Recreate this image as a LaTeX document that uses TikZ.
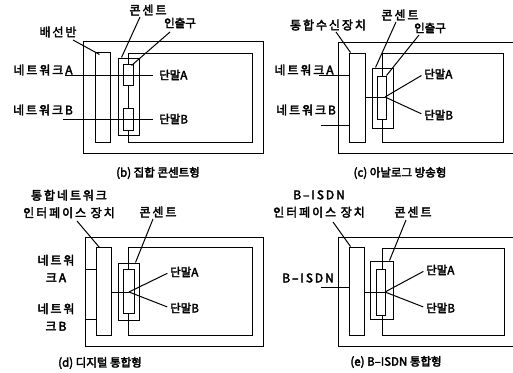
\documentclass[tikz,border=0pt]{standalone}
\usepackage{fontspec}
\newfontfamily\kr{Noto Sans CJK KR}[FakeBold=3]
\newfontfamily\krs{Noto Sans CJK KR}[FakeBold=3,LetterSpace=16]
\usetikzlibrary{fit,calc}
\begin{document}
\begin{tikzpicture}[x=1pt,y=-1pt,
  ln/.style={line width=1pt},
  frame/.style={draw, line width=1pt, inner sep=0pt},
  box/.style={draw, line width=1pt, inner sep=0pt, fill=white},
  lbl/.style={inner sep=0pt, font=\krs\fontsize{12}{17.5}\selectfont, align=center},
  plain/.style={inner sep=0pt, font=\kr\fontsize{11.5}{17}\selectfont},
  term/.style={inner sep=0pt, anchor=west, font=\kr\fontsize{11.5}{13}\selectfont},
  tolbl/.style={ln, shorten >=3pt},
]
\useasboundingbox (0,0) rectangle (513,372);
\fill[white] (0,0) rectangle (513,372);

% ---------------- (b) ----------------
\node[frame, fit={(83,41)(263,153)}] (bOuter) {};
\node[frame, fit={(128,53)(252,142)}] (bRoom) {};
\node[frame, fit={(95,52)(110,142)}] (bPanel) {};
\node[frame, fit={(118,58)(139,135)}] (bOutlet) {};
\node[box, fit={(123,64)(133,85)}] (bJackA) {};
\node[box, fit={(123,108)(133,130)}] (bJackB) {};
\node[lbl] (bNetA) at (43,70) {네트워크A};
\node[lbl] (bNetB) at (43,110) {네트워크B};
\node[term] (bTA) at (159,75) {단말A};
\node[term] (bTB) at (159,119) {단말B};
\node[lbl] (bPanelL) at (58,32) {배선반};
\node[lbl] (bOutletL) at (148,10) {콘센트};
\node[plain] (bJackL) at (180,23) {인출구};
\node[plain] (bCap) at (158,173) {(b) 집합 콘센트형};
\coordinate (bA0) at (65,75);
\coordinate (bB0) at (63,119);
\draw[tolbl, shorten >=6pt] (bA0) -- (bTA.west);
\draw[tolbl, shorten >=6pt] (bB0) -- (bTB.west);
\coordinate (bPanelP) at (73,40);
\coordinate (bOutletP) at (140,17);
\coordinate (bJackP) at (170,32);
\draw[ln] (bPanelP) -- ($(bPanel.north west)+(5,3)$);
\draw[ln] (bOutletP) -- ($(bOutlet.north west)+(4,0)$);
\draw[ln] (bJackP) -- ($(bJackA.north east)+(-2,2)$);

% ---------------- (c) ----------------
\node[frame, fit={(338,42)(520,153)}] (cOuter) {};
\node[frame, fit={(382,53)(503,142)}] (cRoom) {};
\node[frame, fit={(349,53)(365,142)}] (cRecv) {};
\node[frame, fit={(372,68)(393,128)}] (cOutlet) {};
\node[box, fit={(377,76)(386,119)}] (cJack) {};
\node[lbl] (cNetA) at (304,70) {네트워크A};
\node[lbl] (cNetB) at (306,110) {네트워크B};
\node[term] (cTA) at (424,74) {단말A};
\node[term] (cTB) at (424,115) {단말B};
\node[lbl] (cRecvL) at (328,25) {통합수신장치};
\node[lbl] (cOutletL) at (400,15) {콘센트};
\node[plain] (cJackL) at (430,28) {인출구};
\node[plain] (cCap) at (400,173) {(c) 아날로그 방송형};
\coordinate (cA0) at (319,75);
\coordinate (cB0) at (321,125);
\draw[ln] (cA0) -- (cRecv.west |- cA0);
\draw[ln] (cB0) -- (cRecv.west |- cB0);
\coordinate (cJ) at (385,97);
\draw[ln] (cRecv.east |- cJ) -- (cJ);
\draw[tolbl] (cJ) -- (cTA.west);
\draw[tolbl] (cJ) -- (cTB.west);
\coordinate (cRecvP) at (336,32);
\coordinate (cOutletP) at (396,22);
\coordinate (cJackP) at (419,35);
\draw[ln] (cRecvP) -- ($(cRecv.north west)+(2,0)$);
\draw[ln] (cOutletP) -- ($(cOutlet.north west)+(4,0)$);
\draw[ln] (cJackP) -- (cJack.north east);

% ---------------- (d) ----------------
\node[frame, fit={(85,237)(263,346)}] (dOuter) {};
\node[frame, fit={(128,247)(252,335)}] (dRoom) {};
\node[frame, fit={(96,247)(111,335)}] (dIface) {};
\node[frame, fit={(118,263)(139,320)}] (dOutlet) {};
\node[box, fit={(123,269)(134,313)}] (dJack) {};
\node[lbl] (dNetA) at (56,268.5) {네트워\\크A};
\node[lbl] (dNetB) at (56,317) {네트워\\크B};
\node[term] (dTA) at (170,272) {단말A};
\node[term] (dTB) at (170,308) {단말B};
\node[lbl] (dIfaceL) at (69,204) {통합네트워크\\인터페이스 장치};
\node[lbl] (dOutletL) at (158,212) {콘센트};
\node[plain] (dCap) at (100,363) {(d) 디지털 통합형};
\coordinate (dA0) at (85,269);
\coordinate (dB0) at (85,319);
\draw[ln] (dA0) -- (dIface.west |- dA0);
\draw[ln] (dB0) -- (dIface.west |- dB0);
\coordinate (dJ) at (129,292);
\draw[ln] (dIface.east |- dJ) -- (dJ);
\draw[tolbl] (dJ) -- (dTA.west);
\draw[tolbl] (dJ) -- (dTB.west);
\coordinate (dIfaceP) at (77,221);
\coordinate (dOutletP) at (153,219);
\draw[ln] (dIfaceP) -- ($(dIface.north west)+(4,1)$);
\draw[ln] (dOutletP) -- ($(dOutlet.north east)+(-4,0)$);

% ---------------- (e) ----------------
\node[frame, fit={(338,237)(520,346)}] (eOuter) {};
\node[frame, fit={(382,248)(504,335)}] (eRoom) {};
\node[frame, fit={(349,247)(364,335)}] (eIface) {};
\node[frame, fit={(370,261)(393,319)}] (eOutlet) {};
\node[box, fit={(376,269)(385,315)}] (eJack) {};
\node[lbl] (eNet) at (308,278) {B–ISDN};
\node[term] (eTA) at (426,270) {단말A};
\node[term] (eTB) at (426,308) {단말B};
\node[lbl] (eIfaceL) at (319,204) {B–ISDN\\인터페이스 장치};
\node[lbl] (eOutletL) at (413,212) {콘센트};
\node[plain] (eCap) at (396,362) {(e) B–ISDN 통합형};
\coordinate (eN0) at (321,287);
\draw[ln] (eN0) -- (eIface.west |- eN0);
\coordinate (eJ) at (385,292);
\draw[ln] (eIface.east |- eJ) -- (eJ);
\draw[tolbl] (eJ) -- (eTA.west);
\draw[tolbl] (eJ) -- (eTB.west);
\coordinate (eIfaceP) at (333,222);
\coordinate (eOutletP) at (406,220);
\draw[ln] (eIfaceP) -- ($(eIface.north west)+(2,0)$);
\draw[ln] (eOutletP) -- ($(eOutlet.north east)+(-4,0)$);
\end{tikzpicture}
\end{document}
